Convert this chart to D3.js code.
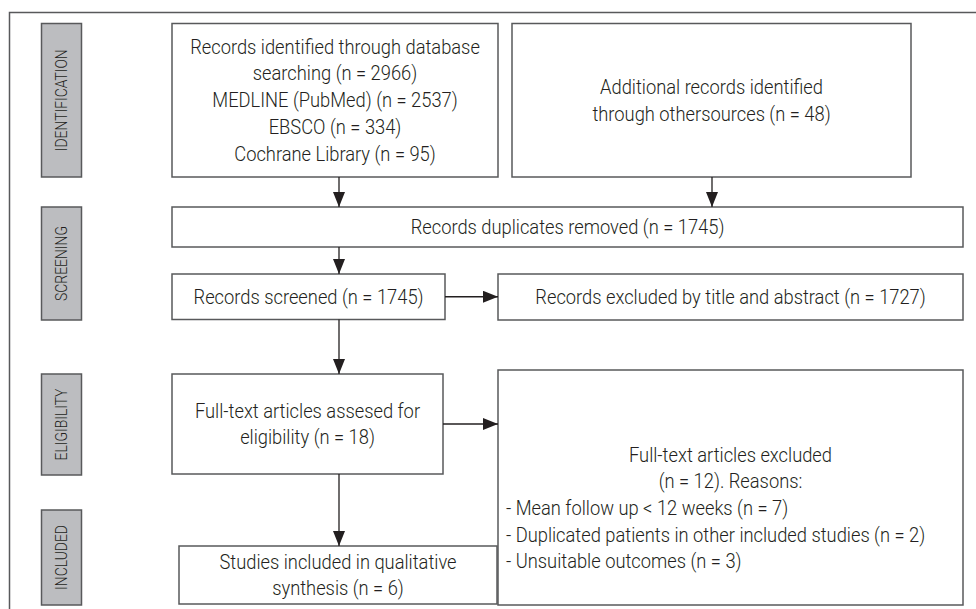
<!DOCTYPE html>
<html><head><meta charset="utf-8">
<script src="https://cdn.jsdelivr.net/npm/d3@7"></script>
<style>
html,body{margin:0;padding:0;background:#fff;}
svg text{font-family:Roboto,"Liberation Sans",sans-serif;font-weight:300;fill:#231f20;}
</style></head>
<body><svg id="c" width="976" height="609"></svg>
<script>
// ---- data ----
const stages = ["IDENTIFICATION", "SCREENING", "ELIGIBILITY", "INCLUDED"];
const boxIds = ["db", "other", "dup", "screened", "excl", "full", "fullExcl", "incl"];
const counts = [2966, 48, 1745, 1745, 1727, 18, 12, 6];
const dbSources = ["MEDLINE (PubMed)", "EBSCO", "Cochrane Library"];
const dbSourceCounts = [2537, 334, 95];
const exclReasons = ["Mean follow up < 12 weeks", "Duplicated patients in other included studies", "Unsuitable outcomes"];
const exclReasonCounts = [7, 2, 3];
const links = [["db","dup"],["other","dup"],["dup","screened"],["screened","excl"],["screened","full"],["full","fullExcl"],["full","incl"]];

const n = v => `(n = ${v})`;
const texts = {
  db: ["Records identified through database", "searching " + n(counts[0])].concat(dbSources.map((s,i)=>`${s} ${n(dbSourceCounts[i])}`)),
  other: ["Additional records identified", "through othersources " + n(counts[1])],
  dup: ["Records duplicates removed " + n(counts[2])],
  screened: ["Records screened " + n(counts[3])],
  excl: ["Records excluded by title and abstract " + n(counts[4])],
  full: ["Full-text articles assesed for", "eligibility " + n(counts[5])],
  fullExcl: ["Full-text articles excluded", n(counts[6]) + ". Reasons:"].concat(exclReasons.map((r,i)=>`- ${r} ${n(exclReasonCounts[i])}`)),
  incl: ["Studies included in qualitative", "synthesis " + n(counts[7])]
};

// ---- layout (separate from data) ----
const layout = {
  db:       {x:172, y:23.5, w:326, h:153.5},
  other:    {x:512, y:23.5, w:399, h:153.5},
  dup:      {x:172, y:207,  w:791, h:40},
  screened: {x:172, y:274,  w:273, h:45.5},
  excl:     {x:498, y:274,  w:465, h:46},
  full:     {x:172, y:374,  w:271, h:100},
  fullExcl: {x:498, y:370,  w:465, h:235},
  incl:     {x:179, y:546,  w:318, h:58}
};
const stageLayout = [
  {y:23.5, h:153.5},{y:207, h:113},{y:374, h:101},{y:510, h:95}
];
const lineH = 26.7;
const FS = 21, LFS = 17;

const svg = d3.select("#c");
const stroke = "#58595b";

// calibrate horizontal condensing of the body font
const probe = svg.append("text").attr("font-size",FS).text(texts.dup[0]);
const kx = 314 / probe.node().getComputedTextLength();
probe.remove();
const probe2 = svg.append("text").attr("font-size",LFS).text(stages[0]);
const kl = 102 / probe2.node().getComputedTextLength();
probe2.remove();

// outer frame
svg.append("path").attr("d", d3.line()([[9.5,609],[9.5,12.5],[976,12.5]]))
  .attr("fill","none").attr("stroke",stroke).attr("stroke-width",1.5);

// stage labels
const sg = svg.selectAll("g.stage").data(stages).join("g").attr("class","stage");
sg.append("rect").attr("x",41.5).attr("y",(d,i)=>stageLayout[i].y).attr("width",40)
  .attr("height",(d,i)=>stageLayout[i].h).attr("fill","#bcbdc0").attr("stroke",stroke).attr("stroke-width",1.5);
sg.append("text").attr("transform",(d,i)=>`translate(62,${stageLayout[i].y+stageLayout[i].h/2}) rotate(-90) scale(${kl},1)`)
  .attr("text-anchor","middle").attr("dominant-baseline","central").attr("font-size",LFS).text(d=>d);

// arrow marker
svg.append("defs").append("marker").attr("id","ah").attr("viewBox","0 0 15 12")
  .attr("refX",15).attr("refY",6).attr("markerWidth",15).attr("markerHeight",12)
  .attr("markerUnits","userSpaceOnUse").attr("orient","auto")
  .append("path").attr("d","M0,0L15,6L0,12Z").attr("fill","#231f20");

// boxes
const bg = svg.selectAll("g.box").data(boxIds).join("g").attr("class","box");
bg.append("rect").attr("x",d=>layout[d].x).attr("y",d=>layout[d].y)
  .attr("width",d=>layout[d].w).attr("height",d=>layout[d].h)
  .attr("fill","#fff").attr("stroke",stroke).attr("stroke-width",1.5);

bg.each(function(id){
  const L = layout[id], lines = texts[id];
  const g = d3.select(this);
  let cy = L.y + L.h/2;
  if (id === "fullExcl") cy = 508;
  const y0 = cy - (lines.length-1)*lineH/2;
  lines.forEach((t,i)=>{
    const left = id==="fullExcl" && i>=2;
    const x = left ? L.x+8 : L.x+L.w/2;
    g.append("text")
      .attr("transform",`translate(${x},${y0 + i*lineH}) scale(${kx},1)`)
      .attr("text-anchor", left ? "start" : "middle")
      .attr("dominant-baseline","central")
      .attr("font-size",FS).text(t);
  });
});

// links
const arrowX = {db:339, other:712, dup:339, screened:339, full:339};
function linkPts(a,b){
  const A=layout[a], B=layout[b];
  if (B.x >= A.x + A.w) { // horizontal
    const y = a==="full" ? 424 : A.y + A.h/2;
    return [[A.x+A.w, y],[B.x, y]];
  }
  const x = arrowX[a];
  return [[x, A.y+A.h],[x, B.y]];
}
svg.selectAll("path.link").data(links).join("path").attr("class","link")
  .attr("d", d=>d3.line()(linkPts(d[0],d[1])))
  .attr("stroke","#231f20").attr("stroke-width",1.3).attr("fill","none")
  .attr("marker-end","url(#ah)");
</script></body></html>
